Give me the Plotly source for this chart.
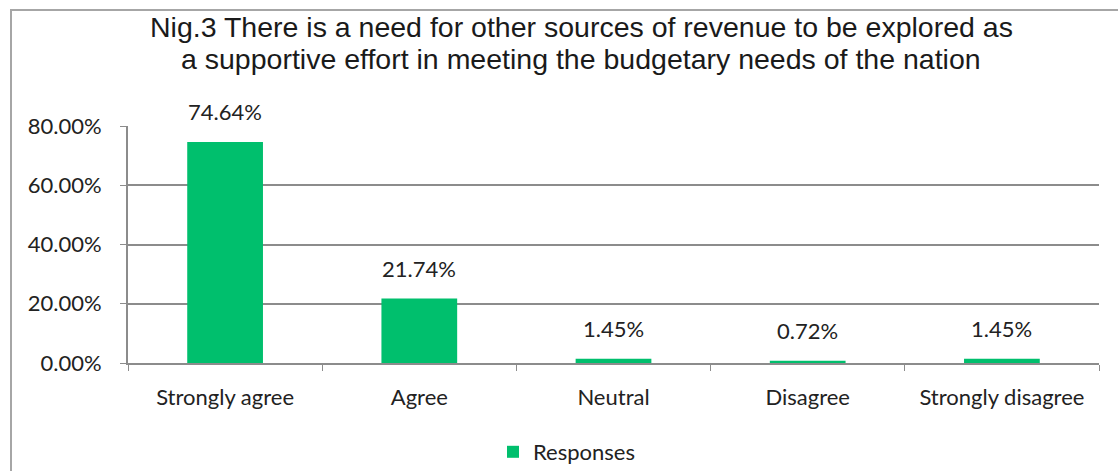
import plotly.graph_objects as go

# Survey responses (percent)
categories = ["Strongly agree", "Agree", "Neutral", "Disagree", "Strongly disagree"]
responses = [74.64, 21.74, 1.45, 0.72, 1.45]
y_ticks = [0, 20, 40, 60, 80]
y_tick_labels = ["0.00%", "20.00%", "40.00%", "60.00%", "80.00%"]

title_lines = [
    "Nig.3 There is a need for other sources of revenue to be explored as",
    "a supportive effort in meeting the budgetary needs of the nation",
]

W, H = 1118, 471
ML, MR, MT, MB = 128, 19, 126, 108
PW, PH = W - ML - MR, H - MT - MB

GREEN = "#00BF6D"
GRID = "#8C8C8C"
LABEL_FONT = dict(family="Lato, Open Sans, sans-serif", size=22, color="#222222")
TITLE_FONT = dict(family="Liberation Sans, Arial, sans-serif", size=28.5, color="#1a1a1a")


def px_x(p):
    return (p - ML) / PW


def px_y(p):
    return 1 - (p - MT) / PH


fig = go.Figure()
fig.add_trace(go.Bar(
    x=categories, y=responses, name="Responses",
    marker=dict(color=GREEN, line=dict(width=0)),
    showlegend=True,
))

# value labels above each bar
for c, v in zip(categories, responses):
    fig.add_annotation(x=c, y=v, text=f"{v:.2f}%", showarrow=False,
                       yanchor="bottom", yshift=15, font=LABEL_FONT)

# two-line chart title
for line, yc in zip(title_lines, [27, 59]):
    fig.add_annotation(xref="paper", yref="paper", x=px_x(581), y=px_y(yc),
                       text=line, showarrow=False, xanchor="center", yanchor="middle",
                       font=TITLE_FONT)

# chart border
fig.add_shape(type="rect", xref="paper", yref="paper",
              x0=px_x(11), x1=px_x(W + 20), y0=px_y(H + 20), y1=px_y(10),
              line=dict(color="#A6A6A6", width=2), fillcolor="rgba(0,0,0,0)")

fig.update_layout(
    width=W, height=H,
    margin=dict(l=ML, r=MR, t=MT, b=MB, autoexpand=False),
    paper_bgcolor="white", plot_bgcolor="white",
    bargap=0.61,
    legend=dict(orientation="h", x=px_x(493), xanchor="left", y=px_y(452), yanchor="middle",
                font=LABEL_FONT, itemwidth=30, bgcolor="rgba(0,0,0,0)"),
    xaxis=dict(showline=True, linecolor=GRID, linewidth=2, automargin=False,
               ticks="outside", tickson="boundaries", ticklen=6, tickcolor=GRID, tickwidth=1,
               ticklabelstandoff=14, tickfont=LABEL_FONT, showgrid=False),
    yaxis=dict(range=[0, 80], tickvals=y_ticks, ticktext=y_tick_labels,
               showline=True, linecolor=GRID, linewidth=2, automargin=False,
               ticks="outside", ticklen=6, tickcolor=GRID, tickwidth=1,
               ticklabelstandoff=14,
               showgrid=True, gridcolor=GRID, gridwidth=2, zeroline=False,
               tickfont=LABEL_FONT),
)

fig.write_html("out.html")
